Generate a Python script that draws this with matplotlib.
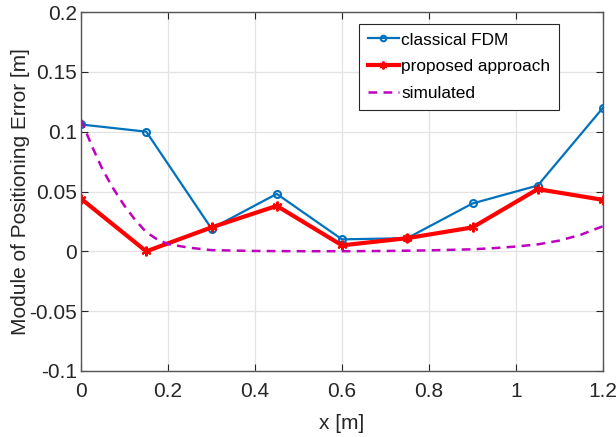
import numpy as np
import matplotlib.pyplot as plt

plt.rcParams['font.family'] = ['Liberation Sans', 'DejaVu Sans']

# node positions and errors
x_nodes = [0, 0.15, 0.3, 0.45, 0.6, 0.75, 0.9, 1.05, 1.2]
err_fdm = [0.106, 0.100, 0.019, 0.048, 0.010, 0.011, 0.040, 0.055, 0.120]
err_proposed = [0.044, 0.000, 0.020, 0.038, 0.005, 0.011, 0.020, 0.052, 0.043]

# simulated curve
x_sim = [0, 0.025, 0.05, 0.075, 0.1, 0.125, 0.15, 0.175, 0.2, 0.25, 0.3,
         0.4, 0.5, 0.6, 0.7, 0.8, 0.9, 0.95, 1.0, 1.05, 1.1, 1.15, 1.2]
err_sim = [0.110, 0.088, 0.068, 0.052, 0.038, 0.026, 0.016, 0.010, 0.006,
           0.003, 0.001, 0.0003, 0.0001, 0.0001, 0.0003, 0.0008, 0.0017,
           0.0027, 0.004, 0.0058, 0.009, 0.014, 0.021]

fig = plt.figure(figsize=(6.16, 4.37), dpi=100)
ax = fig.add_axes([81 / 616, 1 - 371 / 437, 522 / 616, 359 / 437])

ax.plot(x_nodes, err_fdm, color='#0072BD', lw=1.6, marker='o', ms=5,
        mfc='none', mew=1.5, label='classical FDM')
ax.plot(x_nodes, err_proposed, color='red', lw=3, marker=(6, 2, 0), ms=7,
        mew=1.5, label='proposed approach')
ax.plot(x_sim, err_sim, color='#BF00BF', lw=1.8, ls=(0, (3.5, 2.5)),
        label='simulated')

ax.set_xlim(0, 1.2)
ax.set_ylim(-0.1, 0.2)
ax.set_xticks([0, 0.2, 0.4, 0.6, 0.8, 1, 1.2])
ax.set_xticklabels(['0', '0.2', '0.4', '0.6', '0.8', '1', '1.2'])
ax.set_yticks([-0.1, -0.05, 0, 0.05, 0.1, 0.15, 0.2])
ax.set_yticklabels(['-0.1', '-0.05', '0', '0.05', '0.1', '0.15', '0.2'])
ax.tick_params(direction='in', top=True, right=True, labelsize=15,
               colors='#262626', length=5)
ax.tick_params(axis='y', pad=3)
ax.tick_params(axis='x', pad=8)
ax.grid(True, color='#e3e3e3', lw=0.9)
for s in ax.spines.values():
    s.set_color('#555555')
    s.set_linewidth(1.0)

ax.set_xlabel('x [m]', fontsize=15, color='#262626')
ax.set_ylabel('Module of Positioning Error [m]', fontsize=15,
              color='#262626')
ax.xaxis.set_label_coords(0.5, -0.12)
ax.yaxis.set_label_coords(-0.098, 0.5)

leg = ax.legend(loc='upper right', bbox_to_anchor=(0.916, 0.967),
                borderaxespad=0, fontsize=12.4, fancybox=False,
                framealpha=1, edgecolor='#262626', handlelength=1.8,
                handletextpad=0.15, borderpad=0.5, labelspacing=0.68,
                markerscale=0.8)
leg.get_frame().set_linewidth(0.8)

fig.savefig('out.png', dpi=100)
